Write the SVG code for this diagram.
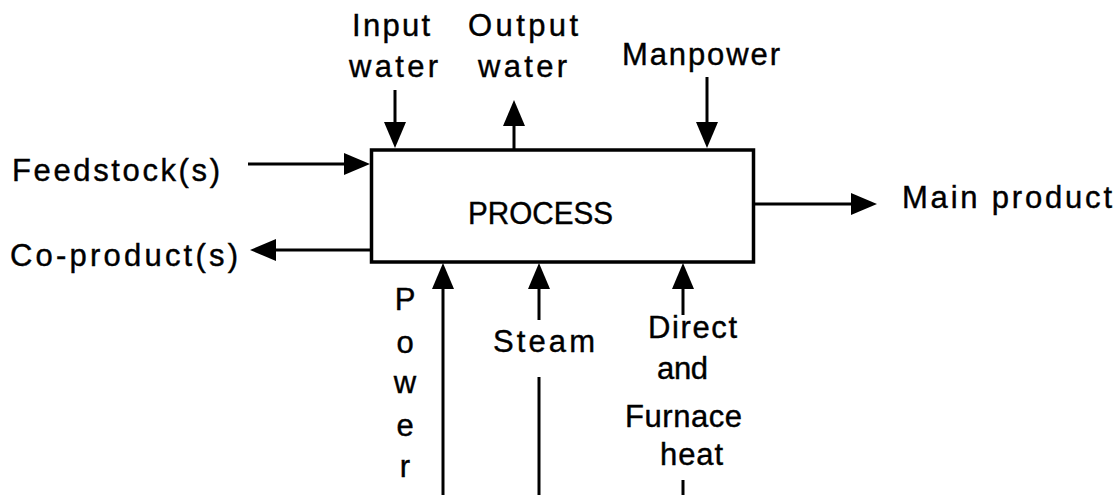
<svg xmlns="http://www.w3.org/2000/svg" width="1116" height="495" viewBox="0 0 1116 495">
<style>
text{font-family:"Liberation Sans",Arial,sans-serif;font-size:31px;fill:#000;stroke:#000;stroke-width:0.4}
.c{text-anchor:middle}
.ln{stroke:#000;stroke-width:3;fill:none}
.ar{marker-end:url(#ah)}
</style>
<defs>
<marker id="ah" markerUnits="userSpaceOnUse" markerWidth="26" markerHeight="22" viewBox="0 0 26 22" refX="20" refY="11" orient="auto">
<path d="M0,0 L26,11 L0,22 z" fill="#000"/>
</marker>
</defs>
<rect width="1116" height="495" fill="#fff"/>
<g id="process">
<rect x="371.5" y="150" width="382" height="112" fill="#fff" stroke="#000" stroke-width="3.5"/>
<text x="468" y="224" textLength="145" lengthAdjust="spacingAndGlyphs" font-size="30">PROCESS</text>
</g>
<g id="feedstock"><text x="12" y="181" textLength="208" lengthAdjust="spacing">Feedstock(s)</text></g>
<g id="coproduct"><text x="10" y="266" textLength="228" lengthAdjust="spacing">Co-product(s)</text></g>
<g id="mainproduct"><text x="902" y="208" textLength="210" lengthAdjust="spacing">Main  product</text></g>
<g id="inputwater">
<text x="352" y="36" textLength="78" lengthAdjust="spacing">Input</text>
<text x="349" y="77" textLength="89" lengthAdjust="spacing">water</text>
</g>
<g id="outputwater">
<text x="468" y="36" textLength="110" lengthAdjust="spacing">Output</text>
<text x="478" y="77" textLength="89" lengthAdjust="spacing">water</text>
</g>
<g id="manpower"><text x="622" y="65" textLength="158" lengthAdjust="spacing">Manpower</text></g>
<g id="power">
<text class="c" x="405" y="310">P</text>
<text class="c" x="405" y="353">o</text>
<text class="c" x="405" y="393">w</text>
<text class="c" x="405" y="436">e</text>
<text class="c" x="405" y="477">r</text>
</g>
<g id="steam"><text x="493" y="352" textLength="102" lengthAdjust="spacing">Steam</text></g>
<g id="heat">
<text x="648" y="338" textLength="89" lengthAdjust="spacing">Direct</text>
<text x="657" y="379" textLength="51" lengthAdjust="spacing">and</text>
<text x="625" y="427" textLength="117" lengthAdjust="spacing">Furnace</text>
<text x="660" y="465" textLength="63" lengthAdjust="spacing">heat</text>
</g>
<g id="connectors">
<path class="ln ar" d="M248,164 H364"/>
<path class="ln ar" d="M370,250 H256"/>
<path class="ln ar" d="M755,204 H871"/>
<path class="ln ar" d="M395,90 V142"/>
<path class="ln ar" d="M514,150 V106"/>
<path class="ln ar" d="M707,77 V142"/>
<path class="ln ar" d="M443,495 V269"/>
<path class="ln ar" d="M539,320 V269"/>
<path class="ln" d="M539,377 V495"/>
<path class="ln ar" d="M683,315 V269"/>
<path class="ln" d="M683,480 V495"/>
</g>
</svg>
